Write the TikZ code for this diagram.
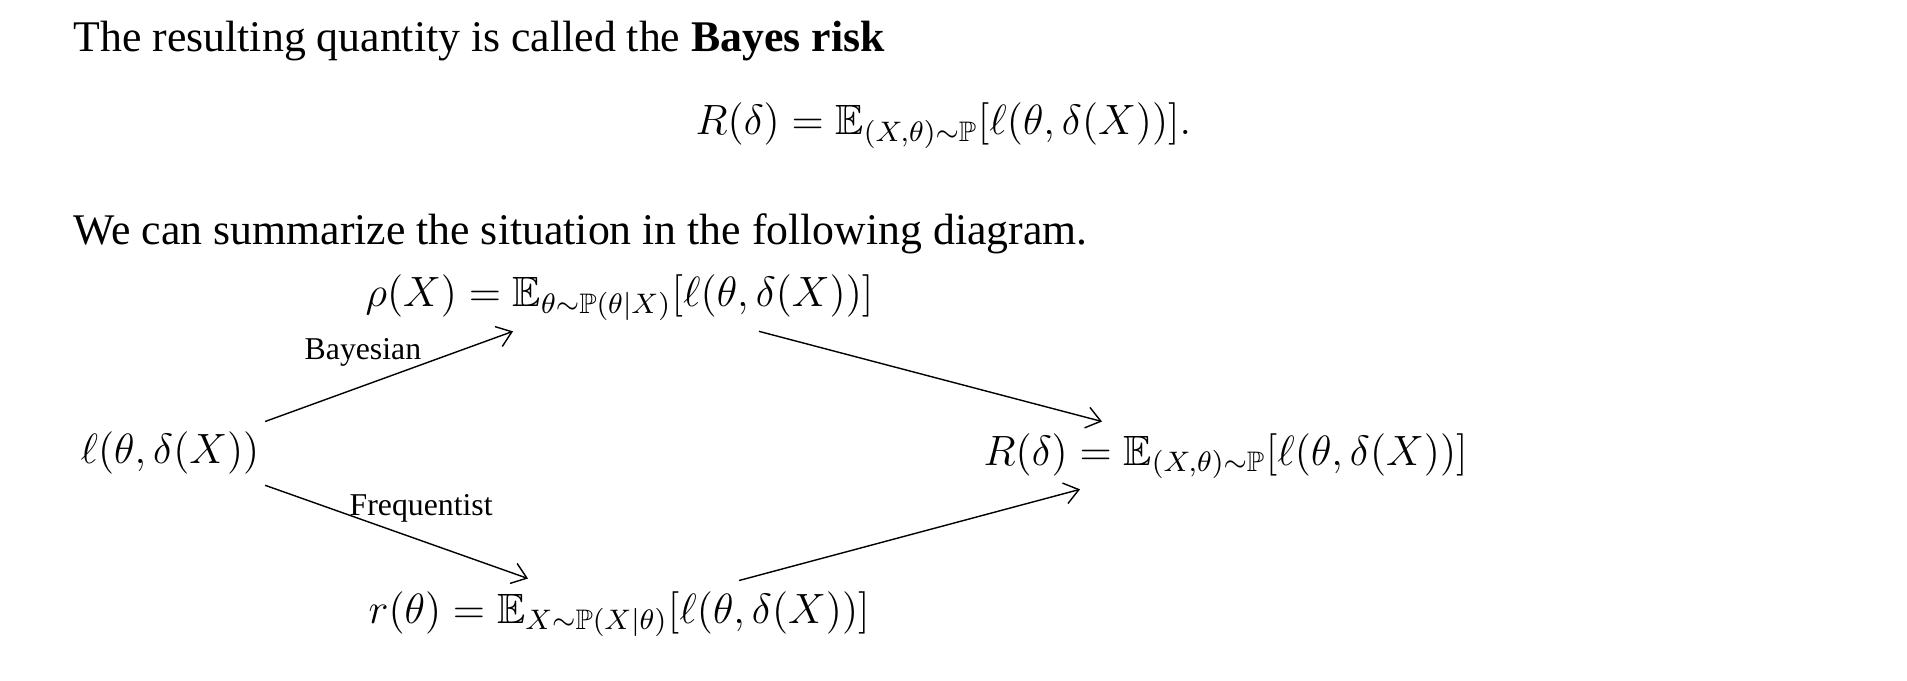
\documentclass[tikz,border=0pt]{standalone}
\usepackage{amsmath}
\usepackage{amssymb}
\usepackage{fontspec}
\setmainfont{Liberation Serif}
\usetikzlibrary{arrows.meta}

\begin{document}
\begin{tikzpicture}[x=0.2833pt, y=-0.2833pt,
    txt/.style={
      anchor=base west,
      inner sep=0pt,
      font=\fontsize{12.4}{14}\selectfont},
    eqn/.style={
      anchor=base west,
      inner sep=0pt,
      font=\fontsize{12}{14}\selectfont},
    lbl/.style={
      anchor=base west,
      inner sep=0pt,
      font=\fontsize{9}{11}\selectfont},
    >={Straight Barb[length=4pt,width=6pt]}
  ]
  \useasboundingbox (0,0) rectangle (1907,681);
  \node[txt] (intro) at (73,52) {The resulting quantity is called the \textbf{Bayes risk}};
  \node[eqn] (bayesrisk) at (695,135) {$R(\delta) = \mathbb{E}_{(X,\theta)\sim\mathbb{P}}[\ell(\theta,\delta(X))].$};
  \node[txt] (summary) at (73,245) {We can summarize the situation in the following diagram.};
  % the diagram
  \node[eqn] (loss) at (80,464) {$\ell(\theta,\delta(X))$};
  \node[eqn] (post) at (365,307) {$\rho(X) = \mathbb{E}_{\theta\sim\mathbb{P}(\theta|X)}[\ell(\theta,\delta(X))]$};
  \node[eqn] (freq) at (368,623) {$r(\theta) = \mathbb{E}_{X\sim\mathbb{P}(X|\theta)}[\ell(\theta,\delta(X))]$};
  \node[eqn] (risk) at (983,465) {$R(\delta) = \mathbb{E}_{(X,\theta)\sim\mathbb{P}}[\ell(\theta,\delta(X))]$};
  \node[lbl] (bay) at (304,360) {Bayesian};
  \node[lbl] (fre) at (349,515) {Frequentist};
  \draw[->] ([shift={(5,-10)}]loss.north east) -- ([shift={(148,10)}]post.south west);
  \draw[->] ([shift={(394,10)}]post.south west) -- ([shift={(119,-11)}]risk.north west);
  \draw[->] ([shift={(5,10)}]loss.south east) -- ([shift={(160,-12)}]freq.north west);
  \draw[->] ([shift={(371,-10)}]freq.north west) -- ([shift={(97,10)}]risk.south west);
\end{tikzpicture}
\end{document}
